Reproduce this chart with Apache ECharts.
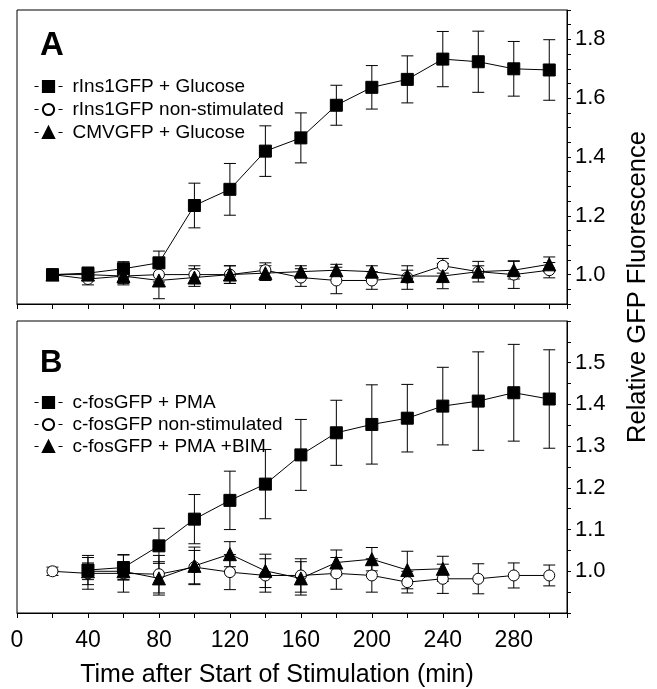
<!DOCTYPE html>
<html>
<head>
<meta charset="utf-8">
<script src="https://cdn.jsdelivr.net/npm/echarts@6/dist/echarts.min.js"></script>
<style>
html, body { margin: 0; padding: 0; background: #fff; }
#chart { width: 657px; height: 689px; }
</style>
</head>
<body>
<div id="chart"></div>
<script>
// time points (min)
const times = [20, 40, 60, 80, 100, 120, 140, 160, 180, 200, 220, 240, 260, 280, 300];
const timesB = [40, 60, 80, 100, 120, 140, 160, 180, 200, 220, 240, 260, 280, 300];
const timesBim = [40, 60, 80, 100, 120, 140, 160, 180, 200, 220, 240];

// panel A
const insGlucose = [1.00, 1.005, 1.02, 1.04, 1.235, 1.29, 1.42, 1.465, 1.576, 1.637, 1.664, 1.733, 1.724, 1.70, 1.696];
const insGlucoseErr = [0.01, 0.02, 0.024, 0.04, 0.076, 0.088, 0.086, 0.085, 0.068, 0.074, 0.08, 0.094, 0.104, 0.093, 0.103];
const insBasal = [1.00, 0.985, 0.995, 1.00, 1.00, 1.00, 1.015, 0.99, 0.98, 0.98, 0.99, 1.03, 1.01, 1.00, 1.015];
const insBasalErr = [0.01, 0.02, 0.025, 0.025, 0.03, 0.03, 0.025, 0.03, 0.045, 0.03, 0.04, 0.025, 0.035, 0.047, 0.026];
const cmvGlucose = [1.00, 1.00, 0.995, 0.98, 0.99, 1.00, 1.005, 1.01, 1.015, 1.01, 0.995, 0.995, 1.01, 1.015, 1.035];
const cmvGlucoseErr = [0.01, 0.02, 0.03, 0.062, 0.03, 0.03, 0.025, 0.02, 0.02, 0.02, 0.02, 0.043, 0.02, 0.03, 0.025];

// panel B
const fosPma = [1.003, 1.009, 1.061, 1.125, 1.17, 1.209, 1.279, 1.332, 1.352, 1.367, 1.396, 1.408, 1.428, 1.413];
const fosPmaErr = [0.035, 0.03, 0.042, 0.059, 0.07, 0.083, 0.085, 0.078, 0.095, 0.081, 0.093, 0.118, 0.116, 0.118];
const fosBasal = [1.00, 0.995, 0.995, 0.993, 1.01, 0.998, 0.99, 0.99, 0.995, 0.99, 0.974, 0.982, 0.982, 0.99, 0.99];
const fosBasalErr = [0.01, 0.038, 0.045, 0.045, 0.04, 0.042, 0.04, 0.04, 0.038, 0.04, 0.026, 0.035, 0.036, 0.03, 0.025];
const fosBim = [1.00, 1.00, 0.983, 1.013, 1.041, 1.001, 0.983, 1.021, 1.029, 1.003, 1.006];
const fosBimErr = [0.02, 0.02, 0.04, 0.045, 0.03, 0.04, 0.04, 0.03, 0.028, 0.045, 0.03];

const FONT = 'Liberation Sans';

const chart = echarts.init(document.getElementById('chart'));

function pairs(xs, ys) {
    return ys.map((y, i) => [xs[i], y]);
}

// error bars drawn as a custom series
function errorBars(gi, xs, means, errs) {
    return {
        type: 'custom',
        xAxisIndex: gi,
        yAxisIndex: gi,
        silent: true,
        z: 1,
        data: means.map((m, i) => [xs[i], m - errs[i], m + errs[i]]),
        encode: { x: 0, y: [1, 2] },
        renderItem: function (params, api) {
            const lo = api.coord([api.value(0), api.value(1)]);
            const hi = api.coord([api.value(0), api.value(2)]);
            const w = 6;
            const style = { stroke: '#000', lineWidth: 1 };
            return {
                type: 'group',
                children: [
                    { type: 'line', shape: { x1: lo[0], y1: lo[1], x2: hi[0], y2: hi[1] }, style: style },
                    { type: 'line', shape: { x1: lo[0] - w, y1: lo[1], x2: lo[0] + w, y2: lo[1] }, style: style },
                    { type: 'line', shape: { x1: hi[0] - w, y1: hi[1], x2: hi[0] + w, y2: hi[1] }, style: style }
                ]
            };
        }
    };
}

function lineSeries(name, gi, xs, ys, kind, z) {
    const s = {
        name: name,
        type: 'line',
        xAxisIndex: gi,
        yAxisIndex: gi,
        data: pairs(xs, ys),
        z: z,
        lineStyle: { color: '#000', width: 1 },
        itemStyle: { color: '#000', borderColor: '#000', borderWidth: 1 },
        emphasis: { disabled: true },
        symbol: 'rect',
        symbolSize: 12
    };
    if (kind === 'circle') {
        s.symbol = 'circle';
        s.symbolSize = 11;
        s.itemStyle = { color: '#fff', borderColor: '#000', borderWidth: 1 };
    } else if (kind === 'triangle') {
        s.symbol = 'triangle';
        s.symbolSize = 13;
    }
    return s;
}

function xAxis(gi, showLabels) {
    const ax = {
        type: 'value',
        gridIndex: gi,
        min: 0,
        max: 310,
        interval: 20,
        axisLine: { onZero: false, lineStyle: { color: '#000', width: 1 } },
        axisTick: { inside: false, length: 5, lineStyle: { color: '#000' } },
        splitLine: { show: false },
        axisLabel: { show: false }
    };
    if (showLabels) {
        ax.axisLabel = {
            show: true,
            fontFamily: FONT,
            fontSize: 23,
            color: '#000',
            margin: 16,
            formatter: v => (v % 40 === 0 && v <= 280) ? String(v) : ''
        };
        ax.name = 'Time after Start of Stimulation (min)';
        ax.nameLocation = 'middle';
        ax.nameGap = 50;
        ax.nameTextStyle = { fontFamily: FONT, fontSize: 25, color: '#000', padding: [0, 30, 0, 0] };
    }
    return ax;
}

function yAxis(gi, min, max, step, lo, hi) {
    return {
        type: 'value',
        gridIndex: gi,
        position: 'right',
        min: min,
        max: max,
        interval: 0.05,
        axisLine: { show: true, onZero: false, lineStyle: { color: '#000', width: 1 } },
        axisTick: { show: true, inside: false, length: 4, lineStyle: { color: '#000' } },
        splitLine: { show: false },
        axisLabel: {
            fontFamily: FONT,
            fontSize: 22,
            color: '#000',
            margin: 8,
            formatter: function (v) {
                const r = Math.round(v * 100);
                return (r % step === 0 && r >= lo && r <= hi) ? (r / 100).toFixed(1) : '';
            }
        }
    };
}

function legend(names, top, gap) {
    return {
        data: names,
        orient: 'vertical',
        left: 29,
        top: top,
        itemWidth: 28,
        itemHeight: 14,
        itemGap: gap,
        selectedMode: false,
        lineStyle: { type: [4, 20], width: 1, color: '#000' },
        textStyle: { fontFamily: FONT, fontSize: 19, color: '#000', lineHeight: 19, padding: [0, 0, 0, 5] }
    };
}

const namesA = ['rIns1GFP + Glucose', 'rIns1GFP non-stimulated', 'CMVGFP + Glucose'];
const namesB = ['c-fosGFP + PMA', 'c-fosGFP non-stimulated', 'c-fosGFP + PMA +BIM'];

const option = {
    backgroundColor: '#fff',
    animation: false,
    grid: [
        { left: 17, top: 10, width: 550, height: 294, show: true, borderColor: '#000', borderWidth: 1, backgroundColor: 'transparent' },
        { left: 17, top: 321, width: 550, height: 292, show: true, borderColor: '#000', borderWidth: 1, backgroundColor: 'transparent' }
    ],
    legend: [legend(namesA, 72, 4), legend(namesB, 388, 3)],
    xAxis: [xAxis(0, false), xAxis(1, true)],
    yAxis: [yAxis(0, 0.9, 1.9, 20, 100, 180), yAxis(1, 0.9, 1.6, 10, 100, 150)],
    graphic: [
        { type: 'text', left: 40, top: 29, style: { text: 'A', fontFamily: FONT, fontSize: 33, fontWeight: 'bold', fill: '#000' } },
        { type: 'text', left: 40, top: 348, style: { text: 'B', fontFamily: FONT, fontSize: 31, fontWeight: 'bold', fill: '#000' } },
        {
            type: 'text', x: 638, y: 287, rotation: Math.PI / 2,
            style: { text: 'Relative GFP Fluorescence', fontFamily: FONT, fontSize: 25.5, fill: '#000', align: 'center', verticalAlign: 'middle' }
        }
    ],
    series: [
        errorBars(0, times, insBasal, insBasalErr),
        errorBars(0, times, insGlucose, insGlucoseErr),
        errorBars(0, times, cmvGlucose, cmvGlucoseErr),
        lineSeries(namesA[1], 0, times, insBasal, 'circle', 3),
        lineSeries(namesA[0], 0, times, insGlucose, 'rect', 4),
        lineSeries(namesA[2], 0, times, cmvGlucose, 'triangle', 5),

        errorBars(1, times, fosBasal, fosBasalErr),
        errorBars(1, timesB, fosPma, fosPmaErr),
        errorBars(1, timesBim, fosBim, fosBimErr),
        lineSeries(namesB[1], 1, times, fosBasal, 'circle', 3),
        lineSeries(namesB[0], 1, timesB, fosPma, 'rect', 4),
        lineSeries(namesB[2], 1, timesBim, fosBim, 'triangle', 5)
    ]
};

chart.setOption(option);
</script>
</body>
</html>
